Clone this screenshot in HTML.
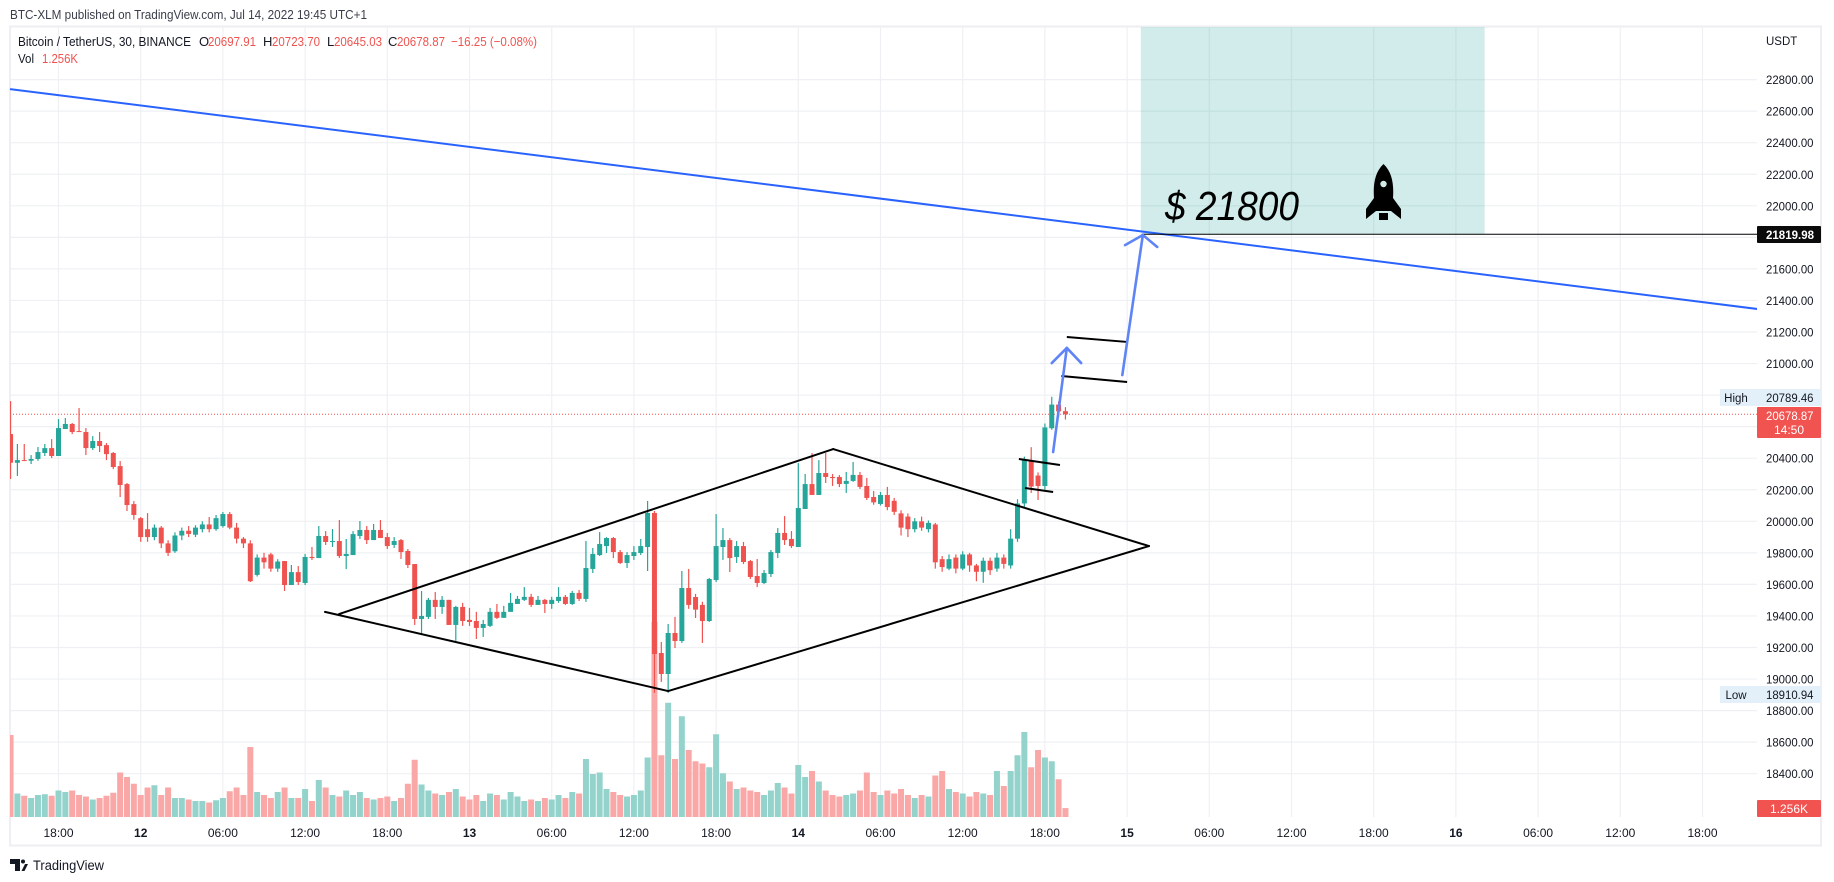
<!DOCTYPE html>
<html lang="en">
<head>
<meta charset="utf-8">
<title>BTC/USDT chart</title>
<style>
html,body{margin:0;padding:0;background:#fff;width:1834px;height:882px;overflow:hidden}
svg{display:block;font-family:"Liberation Sans",sans-serif}
</style>
</head>
<body>
<svg id="chart" xmlns="http://www.w3.org/2000/svg" width="1834" height="882" viewBox="0 0 1834 882">
  <defs><clipPath id="pane"><rect x="10" y="27" width="1747" height="790"/></clipPath></defs>
  <text x="10" y="19" font-size="13" fill="#3a3e4a" textLength="357" lengthAdjust="spacingAndGlyphs">BTC-XLM published on TradingView.com, Jul 14, 2022 19:45 UTC+1</text>
  <rect x="10" y="26.5" width="1811" height="819" fill="#fff" stroke="#eeeef3" stroke-width="2"/>
  <g id="grid"></g>
  <g id="pane-layer" clip-path="url(#pane)">
    <g id="zone"></g>
    <g id="vol"></g>
    <g id="price-line"></g>
    <g id="candles"></g>
    <g id="draw"></g>
  </g>
  <text x="1165" y="220" font-size="41" font-style="italic" fill="#000" textLength="134" lengthAdjust="spacingAndGlyphs">$ 21800</text>
  <g fill="#000" transform="translate(-2 0)">
    <path d="M1385.5 164 C1377 172 1375 184 1376 198 L1368 209 L1368 219 L1378 211 L1393 211 L1403 219 L1403 209 L1395 198 C1396 184 1394 172 1385.5 164 Z"/>
    <rect x="1381" y="213" width="9" height="7"/>
    <circle cx="1385.5" cy="184" r="3.2" fill="#d2ebe6"/>
  </g>
  <g font-size="13">
    <text x="18" y="46" fill="#131722" textLength="173" lengthAdjust="spacingAndGlyphs">Bitcoin / TetherUS, 30, BINANCE</text>
    <text x="199" y="46" fill="#131722">O</text>
    <text x="208" y="46" fill="#ef5350" textLength="48" lengthAdjust="spacingAndGlyphs">20697.91</text>
    <text x="263" y="46" fill="#131722">H</text>
    <text x="272" y="46" fill="#ef5350" textLength="48" lengthAdjust="spacingAndGlyphs">20723.70</text>
    <text x="327" y="46" fill="#131722">L</text>
    <text x="334" y="46" fill="#ef5350" textLength="48" lengthAdjust="spacingAndGlyphs">20645.03</text>
    <text x="388" y="46" fill="#131722">C</text>
    <text x="397" y="46" fill="#ef5350" textLength="48" lengthAdjust="spacingAndGlyphs">20678.87</text>
    <text x="451" y="46" fill="#ef5350" textLength="86" lengthAdjust="spacingAndGlyphs">−16.25 (−0.08%)</text>
    <text x="18" y="63" fill="#131722" textLength="16" lengthAdjust="spacingAndGlyphs">Vol</text>
    <text x="42" y="63" fill="#ef5350" textLength="36" lengthAdjust="spacingAndGlyphs">1.256K</text>
  </g>
  <g id="y-axis" font-size="12" fill="#131722"></g>
  <text x="1766" y="45" font-size="11.5" fill="#131722">USDT</text>
  <g id="x-axis" font-size="12" fill="#131722"></g>

  <g>
    <rect x="1757" y="226" width="64" height="17" rx="1" fill="#0b0b0b"/>
    <text x="1766" y="239" font-size="12" font-weight="bold" fill="#fff" textLength="48" lengthAdjust="spacingAndGlyphs">21819.98</text>
  </g>
  <g>
    <rect x="1720" y="389" width="101" height="17" fill="#e3eff9"/>
    <text x="1736" y="402" font-size="11.5" fill="#131722" text-anchor="middle">High</text>
    <text x="1766" y="402" font-size="12" fill="#131722" textLength="47.5" lengthAdjust="spacingAndGlyphs">20789.46</text>
  </g>
  <g>
    <rect x="1757" y="407" width="64" height="31" rx="1" fill="#f05350"/>
    <text x="1766" y="420" font-size="12" fill="#fff" textLength="47.5" lengthAdjust="spacingAndGlyphs">20678.87</text>
    <text x="1789" y="434" font-size="12" fill="#fff" text-anchor="middle">14:50</text>
  </g>
  <g>
    <rect x="1720" y="686" width="101" height="17" fill="#e3eff9"/>
    <text x="1736" y="699" font-size="11.5" fill="#131722" text-anchor="middle">Low</text>
    <text x="1766" y="699" font-size="12" fill="#131722" textLength="47.5" lengthAdjust="spacingAndGlyphs">18910.94</text>
  </g>
  <g>
    <rect x="1757" y="800" width="64" height="17" rx="1" fill="#f05350"/>
    <text x="1789" y="813" font-size="12" fill="#fff" text-anchor="middle">1.256K</text>
  </g>
  <g>
    <path d="M10 859 H20 V871 H15 V864 H10 Z" fill="#131722"/>
    <circle cx="23" cy="861.5" r="2" fill="#131722"/>
    <path d="M21.5 871 L25 864 H28 L24.5 871 Z" fill="#131722"/>
    <text x="33" y="870" font-size="13.5" fill="#131722" textLength="71" lengthAdjust="spacingAndGlyphs">TradingView</text>
  </g>
</svg>
<script>
const opens=[20553,20371,20388,20384,20395,20433,20464,20414,20585,20617,
20572,20566,20464,20509,20483,20433,20350,20236,20109,20020,
19950,19900,19960,19860,19810,19910,19940,19915,19950,19980,
19950,19970,20046,19960,19890,19860,19660,19770,19790,19700,
19748,19596,19678,19609,19774,19767,19907,19869,19875,19780,
19786,19907,19945,19881,19945,19900,19850,19881,19812,19729,
19381,19394,19502,19457,19502,19343,19457,19375,19368,19324,
19337,19426,19388,19426,19476,19502,19521,19470,19502,19476,
19495,19521,19476,19546,19508,19698,19786,19843,19894,19805,
19736,19780,19799,19837,20053,19165,19032,19292,19241,19577,
19520,19470,19368,19628,19837,19881,19774,19843,19748,19653,
19609,19666,19799,19926,19888,19837,20078,20236,20167,20306,
20281,20281,20237,20256,20294,20224,20154,20110,20167,20130,
20050,20030,19950,20000,19950,19980,19760,19700,19770,19700,
19790,19720,19680,19750,19700,19770,19720,19890,20113,20380,
20290,20224,20590,20740,20697.91];
const closes=[20371,20388,20384,20395,20439,20464,20414,20591,20617,20566,
20566,20464,20509,20477,20426,20344,20230,20103,20040,19900,
19900,19960,19860,19800,19910,19940,19920,19960,19980,19950,
20020,20046,19960,19890,19860,19620,19770,19740,19700,19745,
19596,19678,19615,19774,19767,19907,19869,19875,19780,19793,
19919,19945,19881,19945,19894,19843,19875,19805,19723,19381,
19400,19502,19457,19502,19343,19457,19368,19362,19324,19349,
19426,19388,19426,19483,19508,19521,19470,19502,19476,19502,
19521,19476,19546,19508,19704,19793,19856,19894,19805,19736,
19786,19805,19843,20053,19159,19032,19292,19241,19577,19470,
19440,19368,19634,19843,19881,19767,19843,19742,19647,19609,
19672,19805,19926,19881,19843,20084,20236,20167,20306,20281,
20274,20236,20256,20294,20218,20148,20120,20167,20090,20060,
19960,19950,20000,19960,19990,19740,19710,19760,19700,19790,
19720,19680,19750,19690,19770,19730,19890,20113,20387,20220,
20224,20595,20740,20697,20678.87];
const highs=[20762,20490,20490,20420,20471,20490,20521,20648,20655,20623,
20718,20591,20540,20566,20496,20439,20382,20243,20128,20027,
20052,19980,19970,19880,19930,19960,19970,19975,20000,20027,
20040,20059,20059,19990,19900,19880,19790,19800,19800,19760,
19748,19723,19716,19793,19837,19970,19938,19951,20008,19888,
19938,20002,19970,19983,20008,19926,19900,19888,19824,19729,
19558,19514,19552,19526,19502,19464,19483,19451,19426,19375,
19451,19476,19464,19546,19527,19583,19540,19527,19508,19521,
19583,19533,19559,19565,19875,19831,19932,19900,19900,19818,
19805,19843,19888,20129,20065,19235,19349,19394,19685,19698,
19540,19490,19641,20046,19957,19894,19875,19869,19755,19761,
19691,19818,19957,20033,19938,20369,20300,20433,20388,20433,
20300,20293,20313,20376,20313,20275,20192,20186,20218,20148,
20070,20050,20020,20030,20005,19990,19780,19790,19790,19810,
19800,19730,19770,19770,19800,19790,19950,20140,20410,20470,
20310,20620,20789.46,20760,20723.70];
const lows=[20268,20287,20384,20363,20384,20414,20401,20414,20585,20553,
20566,20420,20452,20439,20388,20331,20154,20065,20010,19870,
19870,19880,19830,19780,19800,19880,19900,19900,19930,19930,
19940,19960,19950,19860,19830,19615,19650,19700,19680,19680,
19558,19596,19596,19596,19755,19767,19850,19837,19767,19697,
19786,19888,19856,19881,19894,19824,19831,19761,19704,19343,
19280,19381,19381,19413,19343,19242,19337,19337,19254,19267,
19330,19381,19388,19426,19476,19495,19457,19470,19419,19445,
19483,19470,19470,19495,19489,19672,19780,19799,19767,19729,
19704,19755,19786,19685,18912,18982,18912,19197,19229,19445,
19387,19229,19362,19615,19755,19678,19736,19729,19634,19583,
19602,19647,19767,19850,19831,19837,20078,20167,20167,20243,
20224,20217,20180,20250,20205,20135,20105,20100,20070,20040,
19910,19900,19930,19940,19930,19700,19680,19690,19670,19690,
19680,19620,19610,19660,19680,19700,19700,19870,20090,20180,
20135,20200,20580,20660,20645.03];
const volumes=[11.0,3.2,2.9,2.6,3.0,3.1,2.9,3.6,3.4,3.6,
3.0,2.8,2.4,2.6,2.9,3.3,6.0,5.4,4.5,3.0,
4.0,4.3,3.0,4.0,2.6,2.6,2.4,2.2,2.2,2.0,
2.3,2.6,3.5,4.0,3.0,9.4,3.4,3.0,2.6,3.4,
4.0,2.6,2.6,3.8,2.2,5.0,4.0,3.0,2.8,3.6,
3.0,3.4,2.6,2.4,2.6,2.8,2.2,2.6,4.5,7.7,
4.4,3.6,3.2,3.0,3.4,3.8,2.8,2.4,3.0,2.2,
3.2,3.0,2.4,3.4,2.8,2.2,2.4,2.2,2.6,2.4,
3.0,2.6,3.4,3.2,7.8,5.8,6.0,3.8,3.4,3.0,
2.8,3.0,3.6,8.0,26.1,8.3,15.3,7.8,13.5,9.0,
7.5,7.2,6.7,11.1,5.9,4.8,3.8,4.0,3.6,3.4,
3.0,3.6,4.6,4.0,3.2,7.0,5.4,6.2,4.8,3.6,
3.0,2.8,3.0,3.2,3.6,6.0,3.4,3.0,3.6,3.2,
3.8,3.0,2.6,3.0,2.8,5.6,6.2,3.8,3.4,3.2,
2.8,3.4,3.2,3.0,6.2,4.2,6.2,8.3,11.4,6.7,
9.0,8.0,7.5,5.1,1.256];

const priceTicks=[22800,22600,22400,22200,22000,21800,21600,21400,21200,21000,20800,20600,20400,20200,20000,19800,19600,19400,19200,19000,18800,18600,18400];
const hiddenPriceLabels=[21800,20800,20600];
const timeLabels=["18:00","12","06:00","12:00","18:00","13","06:00","12:00","18:00","14","06:00","12:00","18:00","15","06:00","12:00","18:00","16","06:00","12:00","18:00"];

const lastPrice=20678.87;
const targetPrice=21819.98;

const diamondLines=[[45.9,19426,96.0,18924],[47.95,19412,120.1,20458],[120.1,20458,166.2,19843],[96.0,18924,166.2,19843]];
const flagLines=[[154.2,21168,163,21137],[153.4,20921,163,20883],[147.2,20395,153.2,20357],[148.1,20211,152.2,20186]];
const trendLine=[-0.08,22740,255,21346];
const arrowPaths=[[152.2,20439,154.2,21099],[152,21003,154.2,21099],[156.3,21003,154.2,21099],[162.3,20927,165.3,21815],[162.7,21751,165.3,21815],[167.4,21739,165.3,21815]];
const targetZone=[165,215.2,23140,targetPrice];

const NS="http://www.w3.org/2000/svg";
const xScale=i=>10.55+6.85*i;
const yScale=p=>521.3+(20000-p)*0.15775;
const volScale=v=>v*7.5;
const VOL_BASE=817.5;
const RED="#ef5350",GREEN="#26a69a";

function mk(tag,attrs,parent){
  const el=document.createElementNS(NS,tag);
  for(const k in attrs){el.setAttribute(k,attrs[k]);}
  parent.appendChild(el);
  return el;
}
const gridG=document.getElementById("grid");
const yAxisG=document.getElementById("y-axis");
const xAxisG=document.getElementById("x-axis");

priceTicks.forEach(p=>{
  const ln=mk("line",{x1:11,x2:1757,y1:yScale(p),y2:yScale(p),stroke:"#eff0f3","stroke-width":1.2},gridG);
  
  
  if(!hiddenPriceLabels.includes(p)){
    const t=mk("text",{x:1766,y:yScale(p)+4.5,textLength:47.5,lengthAdjust:"spacingAndGlyphs"},yAxisG);
    
    
    t.textContent=p.toFixed(2);
  }
});
timeLabels.forEach((lab,k)=>{
  const gx=xScale(7+12*k);
  const ln=mk("line",{x1:gx,x2:gx,y1:27,y2:817,stroke:"#eff0f3","stroke-width":1.2},gridG);
  
  
  const t=mk("text",{x:gx,y:837,"text-anchor":"middle"},xAxisG);
  
  
  if(lab.length<3){t.setAttribute("font-weight","bold");}
  t.textContent=lab;
});

const zoneRect=mk("rect",{x:xScale(targetZone[0]),y:yScale(targetZone[2]),width:xScale(targetZone[1])-xScale(targetZone[0]),height:yScale(targetZone[3])-yScale(targetZone[2]),fill:"rgba(38,166,154,0.21)"},document.getElementById("zone"));



const volG=document.getElementById("vol");
volumes.forEach((v,i)=>{
  const h=volScale(v);
  const up=closes[i]>=opens[i];
  const r=mk("rect",{x:xScale(i)-3,y:VOL_BASE-h,width:6,height:h,fill:up?"#93d3cc":"#f9a8a7"},volG);
  
  
});

const pl=mk("line",{x1:13,x2:1757,y1:yScale(lastPrice),y2:yScale(lastPrice),stroke:RED,"stroke-width":1,"stroke-dasharray":"1 2"},document.getElementById("price-line"));



const cG=document.getElementById("candles");
opens.forEach((o,i)=>{
  const c=closes[i];
  const col=c>=o?GREEN:RED;
  const g=mk("g",{},cG);
  
  
  mk("line",{x1:xScale(i),x2:xScale(i),y1:yScale(highs[i]),y2:yScale(lows[i]),stroke:col,"stroke-width":1.2},g);
  const top=yScale(Math.max(o,c)),bot=yScale(Math.min(o,c));
  mk("rect",{x:xScale(i)-2.5,y:top,width:5,height:Math.max(1,bot-top),fill:col},g);
});

const dG=document.getElementById("draw");
const tl=mk("line",{x1:xScale(trendLine[0]),y1:yScale(trendLine[1]),x2:xScale(trendLine[2]),y2:yScale(trendLine[3]),stroke:"#2962ff","stroke-width":2},dG);


const hl=mk("line",{x1:xScale(165.2),y1:yScale(targetPrice),x2:1757,y2:yScale(targetPrice),stroke:"#000","stroke-width":1},dG);


diamondLines.forEach(s=>{
  const l=mk("line",{x1:xScale(s[0]),y1:yScale(s[1]),x2:xScale(s[2]),y2:yScale(s[3]),stroke:"#000","stroke-width":2,"stroke-linecap":"round"},dG);
  
  
});
flagLines.forEach(s=>{
  const l=mk("line",{x1:xScale(s[0]),y1:yScale(s[1]),x2:xScale(s[2]),y2:yScale(s[3]),stroke:"#000","stroke-width":2},dG);
  
  
});
arrowPaths.forEach(s=>{
  const l=mk("line",{x1:xScale(s[0]),y1:yScale(s[1]),x2:xScale(s[2]),y2:yScale(s[3]),stroke:"#5f84f5","stroke-width":2.6,"stroke-linecap":"round"},dG);
  
  
});
</script>
</body>
</html>
